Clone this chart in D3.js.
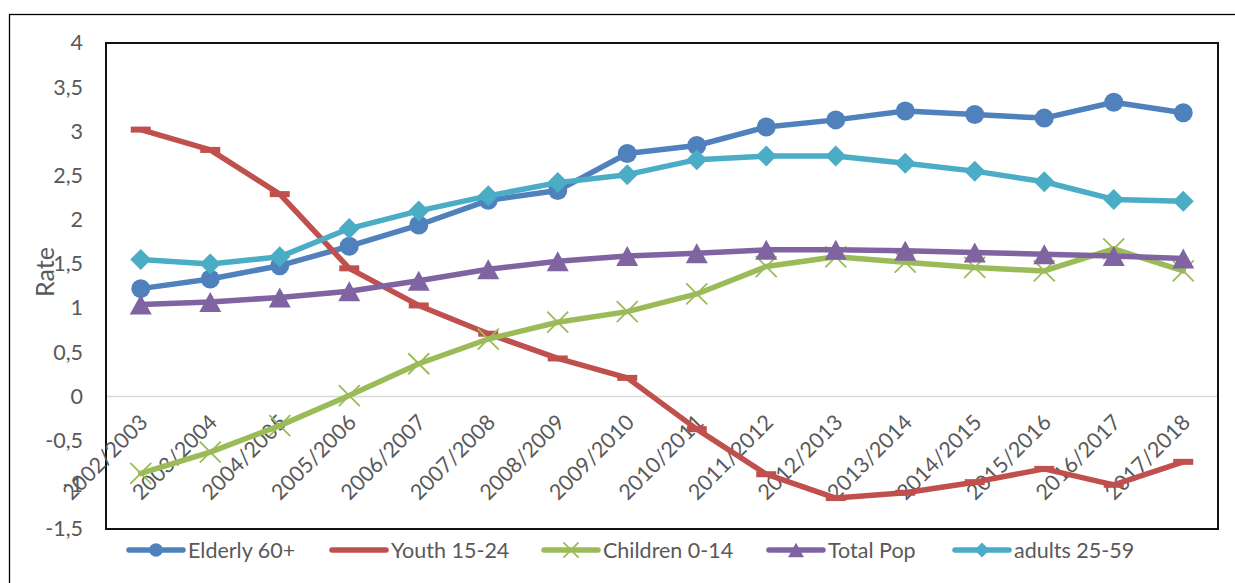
<!DOCTYPE html>
<html>
<head>
<meta charset="utf-8">
<script src="https://cdn.jsdelivr.net/npm/d3@7/dist/d3.min.js"></script>
<style>
  html, body { margin: 0; padding: 0; background: #fff; }
  svg { display: block; }
  text { font-family: Lato, "Open Sans", sans-serif; fill: #595959; }
</style>
</head>
<body>
<svg id="chart" width="1235" height="583"></svg>
<script>
const categories = ["2002/2003","2003/2004","2004/2005","2005/2006","2006/2007","2007/2008","2008/2009","2009/2010","2010/2011","2011/2012","2012/2013","2013/2014","2014/2015","2015/2016","2016/2017","2017/2018"];
const elderly  = [1.22, 1.33, 1.48, 1.70, 1.94, 2.22, 2.33, 2.75, 2.84, 3.05, 3.13, 3.23, 3.19, 3.15, 3.33, 3.21];
const youth    = [3.02, 2.79, 2.29, 1.45, 1.03, 0.71, 0.43, 0.21, -0.37, -0.88, -1.15, -1.09, -0.97, -0.82, -1.00, -0.74];
const children = [-0.87, -0.63, -0.33, 0.01, 0.37, 0.65, 0.84, 0.96, 1.16, 1.47, 1.58, 1.52, 1.46, 1.42, 1.67, 1.42];
const totalPop = [1.04, 1.07, 1.12, 1.19, 1.31, 1.44, 1.53, 1.59, 1.62, 1.66, 1.66, 1.65, 1.63, 1.61, 1.59, 1.56];
const adults   = [1.55, 1.50, 1.58, 1.90, 2.10, 2.27, 2.42, 2.51, 2.68, 2.72, 2.72, 2.64, 2.55, 2.43, 2.23, 2.21];
const yTicks = [-1.5, -1, -0.5, 0, 0.5, 1, 1.5, 2, 2.5, 3, 3.5, 4];
const yTickLabels = ["-1,5","-1","-0,5","0","0,5","1","1,5","2","2,5","3","3,5","4"];
const seriesNames = ["Elderly 60+","Youth 15-24","Children 0-14","Total Pop","adults 25-59"];

const series = [
  {name: seriesNames[0], values: elderly,  color: "#4F81BD", marker: "circle"},
  {name: seriesNames[1], values: youth,    color: "#C0504D", marker: "dash"},
  {name: seriesNames[2], values: children, color: "#9BBB59", marker: "x"},
  {name: seriesNames[3], values: totalPop, color: "#8064A2", marker: "triangle"},
  {name: seriesNames[4], values: adults,   color: "#4BACC6", marker: "diamond"}
];

const FS = 21.5;
const svg = d3.select("#chart");
const plot = {left: 106, top: 43, right: 1218, bottom: 529};

const x = d3.scaleBand().domain(categories).range([plot.left, plot.right]);
const y = d3.scaleLinear().domain([-1.5, 4]).range([plot.bottom, plot.top]);
const cx = c => x(c) + x.bandwidth() / 2;

// outer chart border
svg.append("rect").attr("x", 9.5).attr("y", 14.5).attr("width", 1240).attr("height", 600)
  .attr("fill", "none").attr("stroke", "#000").attr("stroke-width", 1.3);

// zero line
svg.append("line").attr("x1", plot.left).attr("x2", plot.right)
  .attr("y1", y(0)).attr("y2", y(0)).attr("stroke", "#D9D9D9").attr("stroke-width", 1.5);

// plot border
svg.append("rect").attr("x", plot.left).attr("y", plot.top)
  .attr("width", plot.right - plot.left).attr("height", plot.bottom - plot.top)
  .attr("fill", "none").attr("stroke", "#111").attr("stroke-width", 2);

// y axis
const yAxis = d3.axisLeft(y).tickValues(yTicks).tickSize(0).tickPadding(0)
  .tickFormat((d, i) => yTickLabels[i]);
const yg = svg.append("g").attr("transform", "translate(83,0)").call(yAxis);
yg.select(".domain").remove();
yg.selectAll("text").attr("font-size", FS).attr("fill", "#595959")
  .style("font-family", "Lato, 'Open Sans', sans-serif");

// x axis labels (axis crosses at 0)
const xAxis = d3.axisBottom(x).tickSize(0).tickPadding(0);
const xg = svg.append("g").attr("transform", `translate(0,${y(0)})`).call(xAxis);
xg.select(".domain").remove();
xg.selectAll(".tick text")
  .attr("font-size", FS).attr("fill", "#595959")
  .style("font-family", "Lato, 'Open Sans', sans-serif")
  .attr("text-anchor", "end")
  .attr("dy", "0.35em")
  .attr("transform", "translate(3,22) rotate(-45)")
  .attr("y", 0).attr("x", 0);

// axis title
svg.append("text").attr("transform", "translate(54,272) rotate(-90)")
  .attr("text-anchor", "middle").style("font-size", "25px").text("Rate");

function drawMarker(g, type, color, px, py, s) {
  if (type === "circle") {
    g.append("circle").attr("cx", px).attr("cy", py).attr("r", 9.5 * s).attr("fill", color);
  } else if (type === "dash") {
    g.append("rect").attr("x", px - 10 * s).attr("y", py - 3 * s)
      .attr("width", 20 * s).attr("height", 6 * s).attr("fill", color);
  } else if (type === "x") {
    const h = 10.5 * s;
    g.append("path").attr("d", `M${px - h},${py - h}L${px + h},${py + h}M${px - h},${py + h}L${px + h},${py - h}`)
      .attr("stroke", color).attr("stroke-width", 1.8).attr("fill", "none");
  } else if (type === "triangle") {
    const w = 11 * s, h = 10 * s;
    g.append("path").attr("d", `M${px},${py - h}L${px + w},${py + h}L${px - w},${py + h}Z`).attr("fill", color);
  } else if (type === "diamond") {
    const h = 10.5 * s;
    g.append("path").attr("d", `M${px},${py - h}L${px + h},${py}L${px},${py + h}L${px - h},${py}Z`).attr("fill", color);
  }
}

const line = d3.line().x((d, i) => cx(categories[i])).y(d => y(d));

series.forEach(s => {
  const g = svg.append("g");
  g.append("path").datum(s.values).attr("d", line)
    .attr("fill", "none").attr("stroke", s.color).attr("stroke-width", 5.5)
    .attr("stroke-linejoin", "round").attr("stroke-linecap", "round");
  s.values.forEach((v, i) => drawMarker(g, s.marker, s.color, cx(categories[i]), y(v), 1));
});

// legend
const legendX = [129, 332, 544, 769, 955];
const ly = 550;
series.forEach((s, i) => {
  const g = svg.append("g");
  const x0 = legendX[i];
  g.append("line").attr("x1", x0).attr("x2", x0 + 54).attr("y1", ly).attr("y2", ly)
    .attr("stroke", s.color).attr("stroke-width", 5.5).attr("stroke-linecap", "round");
  if (s.marker !== "dash") drawMarker(g, s.marker, s.color, x0 + 27, ly, 0.72);
  g.append("text").attr("x", x0 + 59).attr("y", ly).attr("dy", "0.35em")
    .attr("font-size", FS).text(s.name);
});
</script>
</body>
</html>
